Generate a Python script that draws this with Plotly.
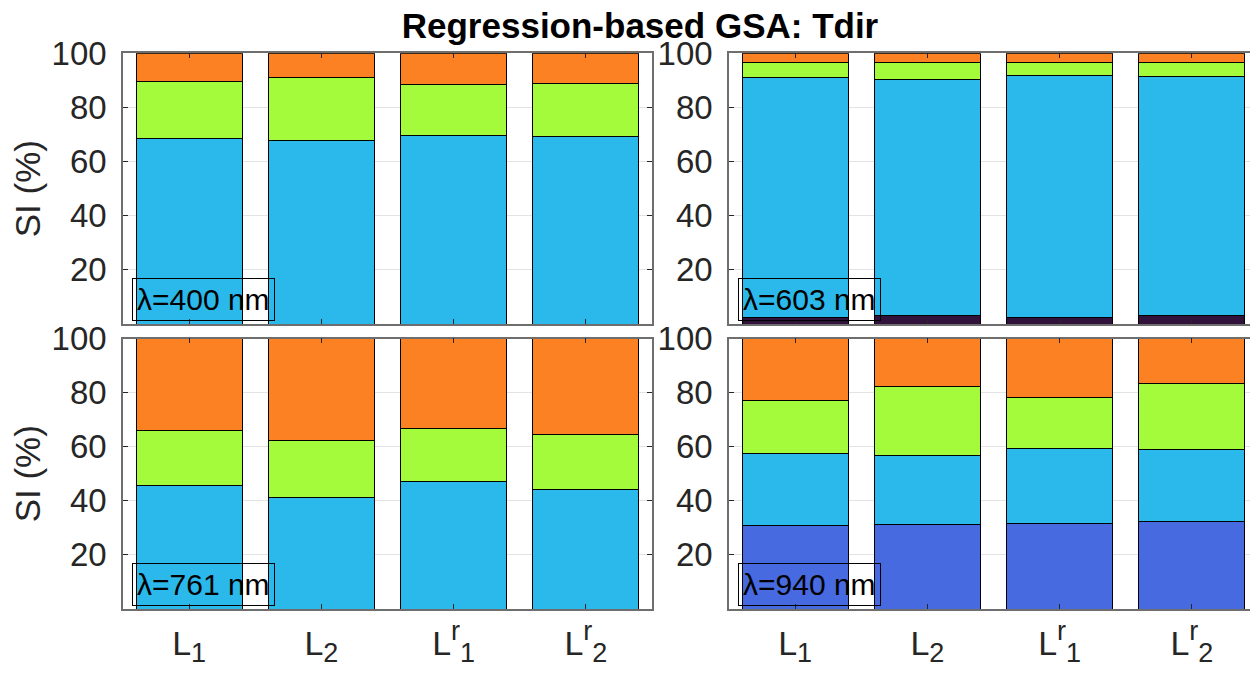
import plotly.graph_objects as go
from plotly.subplots import make_subplots

# ---------------- data ----------------
categories = [1, 2, 3, 4]
sub_style = "<span style='font-size:27px'>{}</span>"
tick_labels = [
    "L<sub>" + sub_style.format("1") + "</sub>",
    "L<sub>" + sub_style.format("2") + "</sub>",
    "L<sup>" + sub_style.format("r") + "</sup><sub>" + sub_style.format("1") + "</sub>",
    "L<sup>" + sub_style.format("r") + "</sup><sub>" + sub_style.format("2") + "</sub>",
]
panel_labels = ["λ=400 nm", "λ=603 nm", "λ=761 nm", "λ=940 nm"]
component_colors = ["#30123B", "#476AE0", "#2BB9EB", "#A4FB3B", "#FB8123"]

# segment values (%) per panel: component 1..5, each over the 4 categories
si_400 = [
    [0, 0, 0, 0],
    [0, 0, 0, 0],
    [68.7, 67.9, 69.8, 69.4],
    [20.8, 23.2, 18.7, 19.5],
    [10.5, 8.9, 11.5, 11.1],
]
si_603 = [
    [2.4, 3.0, 2.5, 3.0],
    [0, 0, 0, 0],
    [88.8, 87.5, 89.2, 88.4],
    [5.5, 6.2, 4.8, 5.2],
    [3.3, 3.3, 3.5, 3.4],
]
si_761 = [
    [0, 0, 0, 0],
    [0, 0, 0, 0],
    [45.5, 41.3, 47.2, 44.3],
    [20.6, 21.1, 19.6, 20.3],
    [33.9, 37.6, 33.2, 35.4],
]
si_940 = [
    [0, 0, 0, 0],
    [31.0, 31.3, 31.5, 32.4],
    [26.6, 25.4, 27.9, 26.6],
    [19.5, 25.6, 18.9, 24.5],
    [22.9, 17.7, 21.7, 16.5],
]
y_ticks = [20, 40, 60, 80, 100]
title_text = "Regression-based GSA: Tdir"
y_title = "SI (%)"

# ---------------- figure ----------------
# the page body has an 8px margin, so the figure is drawn 8px in from the window edge
OFF = 8
W, H = 1258 - OFF, 684 - OFF
FONT = "Liberation Sans, Arial, Helvetica, sans-serif"
TXT = "#262626"

fig = make_subplots(rows=2, cols=2)
panels = [(si_400, 1, 1), (si_603, 1, 2), (si_761, 2, 1), (si_940, 2, 2)]
for data, r, c in panels:
    for comp, vals in enumerate(data):
        fig.add_trace(
            go.Bar(
                x=categories, y=vals,
                marker=dict(color=component_colors[comp], line=dict(color="black", width=1)),
                showlegend=False, hoverinfo="y",
            ),
            row=r, col=c,
        )

# axis domains in window pixels
x_dom = {1: (123, 652), 2: (729, 1258)}
y_dom = {1: (53.3, 324), 2: (338.5, 609)}

for i, (data, r, c) in enumerate(panels):
    idx = "" if i == 0 else str(i + 1)
    xd = [(x_dom[c][0] - OFF) / W, min(1.0, (x_dom[c][1] - OFF) / W)]
    yd = [1 - (y_dom[r][1] - OFF) / H, 1 - (y_dom[r][0] - OFF) / H]
    fig.layout["xaxis" + idx].update(
        domain=xd, range=[0.5, 4.5], tickvals=categories,
        ticktext=tick_labels if r == 2 else None,
        showticklabels=(r == 2), automargin=False,
        ticks="inside", ticklen=5, tickwidth=1, tickcolor=TXT,
        showline=True, linecolor="#6e6e6e", linewidth=1.5, mirror="ticks",
        showgrid=False, zeroline=False,
        tickfont=dict(family=FONT, size=34, color=TXT),
        ticklabelstandoff=3,
    )
    fig.layout["yaxis" + idx].update(
        domain=yd, range=[0, 100], tickvals=y_ticks, automargin=False,
        ticks="inside", ticklen=5, tickwidth=1, tickcolor=TXT,
        showline=True, linecolor="#6e6e6e", linewidth=1.5, mirror="ticks",
        showgrid=True, gridcolor="#e3e3e3", gridwidth=1, zeroline=False,
        tickfont=dict(family=FONT, size=33, color=TXT),
        ticklabelstandoff=8,
    )
    if c == 1:
        fig.layout["yaxis" + idx].update(
            title=dict(text=y_title, font=dict(family=FONT, size=35, color=TXT), standoff=6)
        )
    fig.add_annotation(
        xref=("x" + idx + " domain"), yref=("y" + idx + " domain"),
        x=8.7 / 529, y=3.3 / 270.5, xanchor="left", yanchor="bottom",
        text=panel_labels[i], showarrow=False,
        font=dict(family=FONT, size=30, color="black"),
        bordercolor="black", borderwidth=1, borderpad=4,
    )

fig.update_layout(
    width=W, height=H,
    margin=dict(l=0, r=0, t=0, b=0, autoexpand=False),
    barmode="stack", bargap=0.2,
    plot_bgcolor="white", paper_bgcolor="white",
    title=dict(
        text="<b>" + title_text + "</b>", x=(640 - OFF) / W, xanchor="center",
        y=1 - (25.5 - OFF) / H, yanchor="middle", xref="container", yref="container",
        font=dict(family=FONT, size=35, color="black"),
    ),
)

fig.write_html("out.html")
